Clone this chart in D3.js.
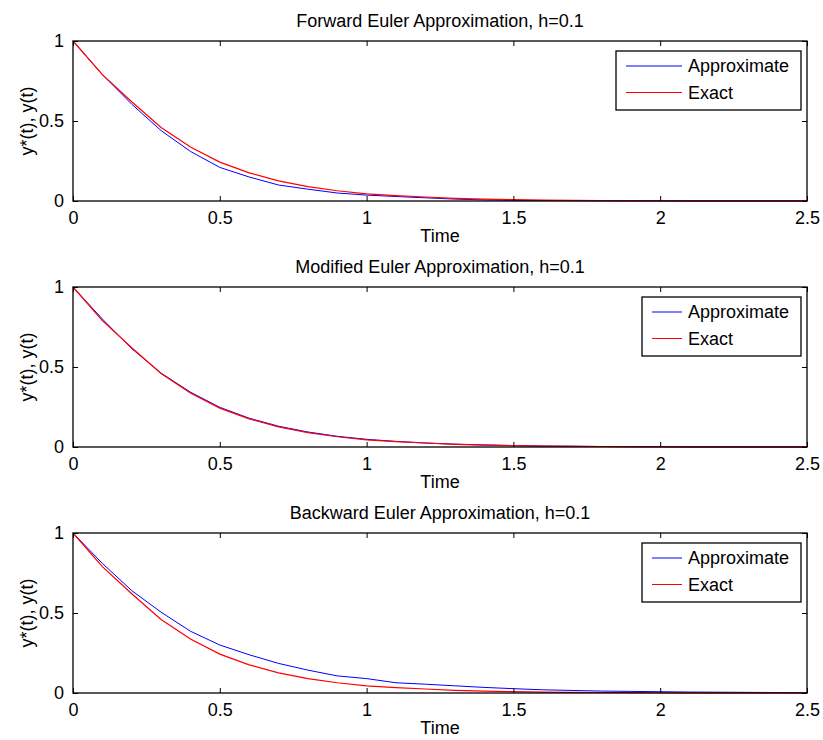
<!DOCTYPE html>
<html>
<head>
<meta charset="utf-8">
<script src="https://cdnjs.cloudflare.com/ajax/libs/d3/7.9.0/d3.min.js"></script>
<style>
  body { margin: 0; background: #fff; }
  svg text { font-family: "Liberation Sans", Arial, sans-serif; fill: #000; }
</style>
</head>
<body>
<script>
// time steps, h = 0.1
const time = [0, 0.1, 0.2, 0.3, 0.4, 0.5, 0.6, 0.7, 0.8, 0.9, 1.0, 1.1, 1.2,
  1.3, 1.4, 1.5, 1.6, 1.7, 1.8, 1.9, 2.0, 2.1, 2.2, 2.3, 2.4, 2.5];

// exact solution
const exact = [1, 0.79, 0.62, 0.46, 0.338, 0.243, 0.176, 0.126, 0.09, 0.064,
  0.045, 0.033, 0.025, 0.017, 0.012, 0.008, 0.006, 0.004, 0.003, 0.002,
  0.0015, 0.001, 0.001, 0.0005, 0.0005, 0.0003];

// forward euler approximation
const forwardEuler = [1, 0.79, 0.605, 0.44, 0.31, 0.21, 0.15, 0.1, 0.074, 0.05,
  0.037, 0.028, 0.02, 0.012, 0.007, 0.004, 0.003, 0.002, 0.001, 0.001,
  0.0005, 0.0003, 0.0002, 0.0001, 0.0001, 0.0001];

// modified euler approximation
const modifiedEuler = [1, 0.80, 0.615, 0.462, 0.343, 0.248, 0.18, 0.13, 0.094,
  0.067, 0.048, 0.035, 0.025, 0.018, 0.013, 0.009, 0.006, 0.005, 0.003, 0.002,
  0.0015, 0.001, 0.001, 0.0005, 0.0005, 0.0003];

// backward euler approximation
const backwardEuler = [1, 0.81, 0.64, 0.505, 0.386, 0.3, 0.239, 0.185, 0.143,
  0.107, 0.09, 0.064, 0.055, 0.045, 0.035, 0.027, 0.02, 0.016, 0.012, 0.01,
  0.008, 0.006, 0.005, 0.004, 0.003, 0.002];

const titles = ["Forward Euler Approximation, h=0.1",
  "Modified Euler Approximation, h=0.1",
  "Backward Euler Approximation, h=0.1"];
const approxSeries = [forwardEuler, modifiedEuler, backwardEuler];
const legendLabels = ["Approximate", "Exact"];
const xTicks = [0, 0.5, 1, 1.5, 2, 2.5];
const yTicks = [0, 0.5, 1];

const width = 823, height = 740;
const left = 73, right = 807;
const plotTops = [41, 287, 533];
const plotH = 160;
const legendX = [616, 642, 642];
const fs = 18;

const svg = d3.select("body").append("svg")
  .attr("width", width)
  .attr("height", height);

const x = d3.scaleLinear().domain([0, 2.5]).range([left, right]);

titles.forEach((title, i) => {
  const top = plotTops[i], bottom = top + plotH;
  const y = d3.scaleLinear().domain([0, 1]).range([bottom, top]);
  const g = svg.append("g");

  // curves
  const line = d3.line().x((d, k) => x(time[k])).y(d => y(d));
  g.append("path").datum(approxSeries[i])
    .attr("fill", "none").attr("stroke", "#0000ff").attr("stroke-width", 1)
    .attr("d", line);
  g.append("path").datum(exact)
    .attr("fill", "none").attr("stroke", "#ff0000").attr("stroke-width", 1.2)
    .attr("d", line);

  // axes, ticks pointing in
  const xb = g.append("g").attr("transform", `translate(0,${bottom})`)
    .call(d3.axisBottom(x).tickValues(xTicks).tickSizeInner(-5).tickSizeOuter(0)
      .tickFormat(d3.format("")));
  const xt = g.append("g").attr("transform", `translate(0,${top})`)
    .call(d3.axisTop(x).tickValues(xTicks).tickSizeInner(-5).tickSizeOuter(0)
      .tickFormat(""));
  const yl = g.append("g").attr("transform", `translate(${left},0)`)
    .call(d3.axisLeft(y).tickValues(yTicks).tickSizeInner(-5).tickSizeOuter(0)
      .tickPadding(9).tickFormat(d3.format("")));
  const yr = g.append("g").attr("transform", `translate(${right},0)`)
    .call(d3.axisRight(y).tickValues(yTicks).tickSizeInner(-5).tickSizeOuter(0)
      .tickFormat(""));
  [xb, xt, yl, yr].forEach(a => {
    a.select(".domain").remove();
    a.selectAll("line").attr("stroke", "#000");
    a.selectAll("text").attr("font-size", fs).attr("fill", "#000")
      .attr("font-family", '"Liberation Sans", Arial, sans-serif');
  });
  xb.selectAll("text").attr("dy", "0.71em").attr("y", 10);

  g.append("rect")
    .attr("x", left).attr("y", top)
    .attr("width", right - left).attr("height", plotH)
    .attr("fill", "none").attr("stroke", "#000").attr("stroke-width", 1.3);

  // title and labels
  g.append("text").attr("x", (left + right) / 2).attr("y", top - 14)
    .attr("text-anchor", "middle").attr("font-size", fs).text(title);
  g.append("text").attr("x", (left + right) / 2).attr("y", bottom + 41)
    .attr("text-anchor", "middle").attr("font-size", fs).text("Time");
  g.append("text")
    .attr("transform", `translate(33,${(top + bottom) / 2}) rotate(-90)`)
    .attr("text-anchor", "middle").attr("font-size", fs).text("y*(t), y(t)");

  // legend
  const lx = legendX[i], ly = top + 10;
  const lw = 801 - lx, lh = 59;
  g.append("rect").attr("x", lx).attr("y", ly).attr("width", lw).attr("height", lh)
    .attr("fill", "#fff").attr("stroke", "#000").attr("stroke-width", 1.3);
  const colors = ["#0000ff", "#ff0000"];
  legendLabels.forEach((lab, k) => {
    const yy = ly + 15 + k * 26.5;
    g.append("line").attr("x1", lx + 10).attr("x2", 682)
      .attr("y1", yy).attr("y2", yy)
      .attr("stroke", colors[k]).attr("stroke-width", 1);
    g.append("text").attr("x", 688).attr("y", yy).attr("dy", "0.35em")
      .attr("font-size", fs).text(lab);
  });
});
</script>
</body>
</html>
